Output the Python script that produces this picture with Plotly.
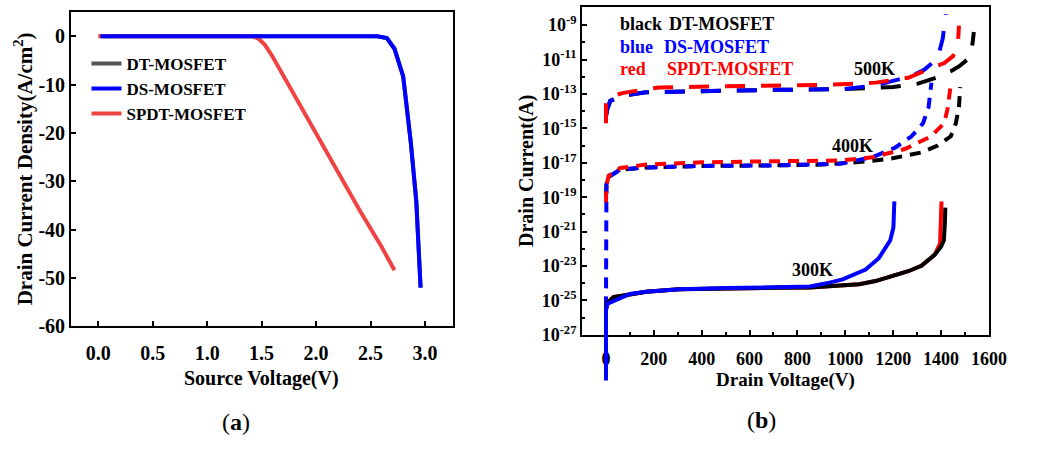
import plotly.graph_objects as go

# ---------------- Panel (a) data ----------------
ds_v = [0.02, 0.5, 1.0, 1.5, 2.0, 2.56, 2.65, 2.72, 2.80, 2.87, 2.92, 2.96]
ds_j = [0, 0, 0, 0, 0, 0, -0.4, -2.6, -8.3, -22, -34, -52]
dt_v = ds_v
dt_j = ds_j
spdt_v = [0.0, 0.5, 1.0, 1.41, 1.47, 1.53, 1.60, 1.70, 1.80, 2.0, 2.2, 2.4, 2.6, 2.72]
spdt_j = [0, 0, 0, 0, -0.5, -1.8, -4.2, -8.2, -12.3, -20.3, -28.2, -36.0, -43.5, -48.4]
yticks_a = [0, -10, -20, -30, -40, -50, -60]
xticks_a = [0, 0.5, 1.0, 1.5, 2.0, 2.5, 3.0]

# ---------------- Panel (b) data (log10 of current) ----------------
# 300 K (solid)
dt300_v = [0, 4, 31, 100, 168, 305, 510, 716, 852, 989, 1058, 1126, 1195, 1263, 1318, 1373, 1400, 1412, 1416, 1418]
dt300_e = [-25.6, -25.19, -24.81, -24.62, -24.49, -24.34, -24.28, -24.26, -24.24, -24.15, -24.05, -23.87, -23.58, -23.3, -22.98, -22.35, -21.88, -21.5, -20.5, -19.6]
sp300_v = [0, 4, 31, 100, 168, 305, 510, 716, 852, 989, 1058, 1126, 1195, 1263, 1318, 1373, 1396, 1400, 1402]
sp300_e = [-25.6, -25.19, -24.81, -24.62, -24.49, -24.34, -24.28, -24.26, -24.24, -24.15, -24.05, -23.87, -23.58, -23.3, -22.98, -22.35, -21.7, -20.5, -19.25]
ds300_v = [0, 0, 7, 41, 100, 168, 305, 510, 716, 852, 934, 989, 1085, 1140, 1188, 1201, 1205]
ds300_e = [-29.65, -25.47, -25.19, -25.0, -24.62, -24.49, -24.34, -24.28, -24.26, -24.19, -23.96, -23.77, -23.2, -22.54, -21.5, -20.75, -19.24]
# 400 K (short dash)
dt400_v = [0, 2, 11, 59, 168, 400, 700, 900, 1044, 1181, 1318, 1386, 1441, 1462, 1475, 1480]
dt400_e = [-18.9, -18.3, -17.82, -17.4, -17.27, -17.18, -17.15, -17.1, -16.97, -16.78, -16.4, -16.0, -15.46, -14.7, -13.76, -12.6]
sp400_v = [0, 2, 11, 59, 168, 400, 700, 976, 1113, 1249, 1359, 1413, 1427, 1434, 1441]
sp400_e = [-19.3, -18.3, -17.75, -17.3, -17.1, -16.97, -16.91, -16.87, -16.68, -16.2, -15.46, -14.7, -13.9, -13.3, -12.45]
ds400_v = [0, 0, 2, 11, 59, 168, 400, 700, 976, 1113, 1208, 1277, 1325, 1348, 1356, 1360]
ds400_e = [-25.4, -18.6, -18.2, -17.82, -17.4, -17.27, -17.18, -17.15, -17.06, -16.68, -16.12, -15.46, -14.7, -13.76, -13.0, -12.35]
# 500 K (long dash)
dt500_v = [0, 5, 18, 72, 168, 442, 700, 989, 1200, 1304, 1380, 1441, 1475, 1510, 1528, 1533, 1537]
dt500_e = [-14.3, -13.9, -13.4, -13.09, -12.9, -12.81, -12.76, -12.72, -12.6, -12.4, -12.05, -11.68, -11.4, -11.0, -10.45, -9.9, -9.4]
sp500_v = [0, 0, 10, 68, 133, 223, 579, 921, 1126, 1263, 1345, 1414, 1450, 1470, 1475]
sp500_e = [-14.7, -13.6, -13.2, -12.95, -12.8, -12.62, -12.53, -12.47, -12.34, -12.06, -11.58, -11.2, -10.8, -10.2, -9.03]
ds500_v = [0, 5, 18, 72, 168, 442, 700, 989, 1126, 1277, 1331, 1386, 1407, 1420]
ds500_e = [-14.3, -13.9, -13.4, -13.09, -12.9, -12.81, -12.76, -12.72, -12.5, -11.96, -11.58, -10.92, -9.79, -8.37]

ytick_exps = [-9, -11, -13, -15, -17, -19, -21, -23, -25, -27]
xticks_b = [0, 200, 400, 600, 800, 1000, 1200, 1400, 1600]

FONT = "Liberation Serif, Times New Roman, serif"
W, H = 1040, 450


def px(x):
    return x / W


def py(y):
    return 1 - y / H


def pw(e):
    return [10 ** v for v in e]


fig = go.Figure()

# ---- panel (a) ----
fig.add_trace(go.Scatter(x=dt_v, y=dt_j, mode="lines", name="DT-MOSFET",
                         line=dict(color="#555555", width=4), xaxis="x", yaxis="y"))
fig.add_trace(go.Scatter(x=spdt_v, y=spdt_j, mode="lines", name="SPDT-MOSFET",
                         line=dict(color="#F04444", width=4), xaxis="x", yaxis="y",
                         showlegend=False))
fig.add_trace(go.Scatter(x=ds_v, y=ds_j, mode="lines", name="DS-MOSFET",
                         line=dict(color="#0000FF", width=4), xaxis="x", yaxis="y"))
fig.add_trace(go.Scatter(x=[None], y=[None], mode="lines", name="SPDT-MOSFET",
                         line=dict(color="#F04444", width=4), xaxis="x", yaxis="y"))

# ---- panel (b) ----
LD = "20px,16px"
SD = "11px,8px"
for v, e, c, d in [
    (dt500_v, dt500_e, "#000000", LD), (ds500_v, ds500_e, "#0000FF", LD), (sp500_v, sp500_e, "#FF0000", LD),
    (dt400_v, dt400_e, "#000000", SD), (ds400_v, ds400_e, "#0000FF", SD), (sp400_v, sp400_e, "#FF0000", SD),
    (sp300_v, sp300_e, "#FF0000", "solid"), (dt300_v, dt300_e, "#000000", "solid"),
]:
    fig.add_trace(go.Scatter(x=v, y=pw(e), mode="lines", showlegend=False,
                             line=dict(color=c, width=4, dash=d), xaxis="x2", yaxis="y2"))
# blue 300 K runs below the frame in the original -> extended invisible axes
fig.add_trace(go.Scatter(x=ds300_v, y=pw(ds300_e), mode="lines", showlegend=False,
                         line=dict(color="#0000FF", width=4), xaxis="x3", yaxis="y3"))

tickfont_a = dict(family=FONT, size=20, color="black", weight="bold")
tickfont_b = dict(family=FONT, size=18, color="black", weight="bold")

# geometry
a_l, a_r, a_t, a_b = 72.3, 460.7, 12.3, 334.5
b_l, b_r, b_t, b_b = 592.3, 1006.3, 7.5, 343.3
y_top_exp = -27 + (b_b - b_t) / 17.64
ext_b = 392
y_ext_bottom = -27 - (ext_b - b_b) / 17.64

axis_common = dict(showline=True, linecolor="black", linewidth=2, mirror=True,
                   ticks="inside", tickcolor="black", tickwidth=2, showgrid=False,
                   zeroline=False)

fig.update_layout(
    width=W, height=H, margin=dict(l=0, r=0, t=0, b=0),
    paper_bgcolor="white", plot_bgcolor="rgba(0,0,0,0)",
    font=dict(family=FONT, color="black"),
    xaxis=dict(domain=[px(a_l), px(a_r)], range=[-0.25, 3.255], tickvals=xticks_a,
               ticktext=["%.1f" % t for t in xticks_a], ticklen=5, ticklabelstandoff=8,
               tickfont=tickfont_a, anchor="y", **axis_common),
    yaxis=dict(domain=[py(a_b), py(a_t)], range=[-60, 5], tickvals=yticks_a,
               ticktext=["%d" % t for t in yticks_a],
               ticklen=5, tickfont=tickfont_a, anchor="x", **axis_common),
    xaxis2=dict(domain=[px(b_l), px(b_r)], range=[-100, 1600], tickvals=xticks_b,
                ticktext=[str(t) for t in xticks_b], ticklen=5, ticklabelstandoff=6,
                tickfont=tickfont_b, anchor="y2",
                minor=dict(tickvals=[100, 300, 500, 700, 900, 1100, 1300, 1500], ticklen=3,
                           ticks="inside", tickcolor="black", tickwidth=2),
                **axis_common),
    yaxis2=dict(domain=[py(b_b), py(b_t)], type="log", range=[-27, y_top_exp],
                tickvals=[10 ** k for k in ytick_exps],
                ticktext=["10<sup>%d</sup>" % k for k in ytick_exps], ticklen=5,
                tickfont=tickfont_b, anchor="x2",
                minor=dict(tickvals=[10 ** k for k in range(-26, -7, 2)], ticklen=3,
                           ticks="inside", tickcolor="black", tickwidth=2),
                **axis_common),
    xaxis3=dict(domain=[px(b_l), px(b_r)], range=[-100, 1600], visible=False, anchor="y3"),
    yaxis3=dict(domain=[py(ext_b), py(b_t)], type="log", range=[y_ext_bottom, y_top_exp],
                visible=False, anchor="x3"),
    legend=dict(x=px(88), y=py(47), xanchor="left", yanchor="top", itemwidth=30,
                font=dict(family=FONT, size=17, color="black", weight="bold"),
                bgcolor="rgba(0,0,0,0)", borderwidth=0, tracegroupgap=0),
)


def ann(x, y, text, size, color="black", anchor="center", angle=0, bold=True):
    fig.add_annotation(x=px(x), y=py(y), xref="paper", yref="paper", text=text, showarrow=False,
                       xanchor=anchor, yanchor="middle", textangle=angle,
                       font=dict(family=FONT, size=size, color=color, weight="bold" if bold else "normal"))


# axis titles
ann(266.5, 388, "Source Voltage(V)", 20)
ann(24, 173, "Drain Current Density(A/cm<sup>2</sup>)", 21, angle=-90)
ann(799, 390, "Drain Voltage(V)", 19)
ann(535.5, 175, "Drain Current(A)", 20, angle=-90)

# panel labels
ann(240, 433, "(<b>a</b>)", 24, bold=False)
ann(775, 431, "(<b>b</b>)", 24, bold=False)

# temperature labels
ann(890, 71, "500K", 18)
ann(867.7, 150, "400K", 18)
ann(827, 277, "300K", 18)

# colour key in panel (b)
ann(629, 25, "black", 18, anchor="left")
ann(679, 25, "DT-MOSFET", 18, anchor="left")
ann(629, 48, "blue", 18, color="#0000FF", anchor="left")
ann(674, 48, "DS-MOSFET", 18, color="#0000FF", anchor="left")
ann(629, 71, "red", 18, color="#FF0000", anchor="left")
ann(676.7, 71, "SPDT-MOSFET", 18, color="#FF0000", anchor="left")

# keep the page exactly the size of the figure (no stray overflow / scrollbars)
post = (
    "document.documentElement.style.overflow='hidden';"
    "document.body.style.margin='0';"
    "document.body.style.overflow='hidden';"
    "var gd=document.getElementById('{plot_id}'); if (gd) { gd.style.overflow='hidden'; }"
)

fig.write_html("out.html", post_script=post)
